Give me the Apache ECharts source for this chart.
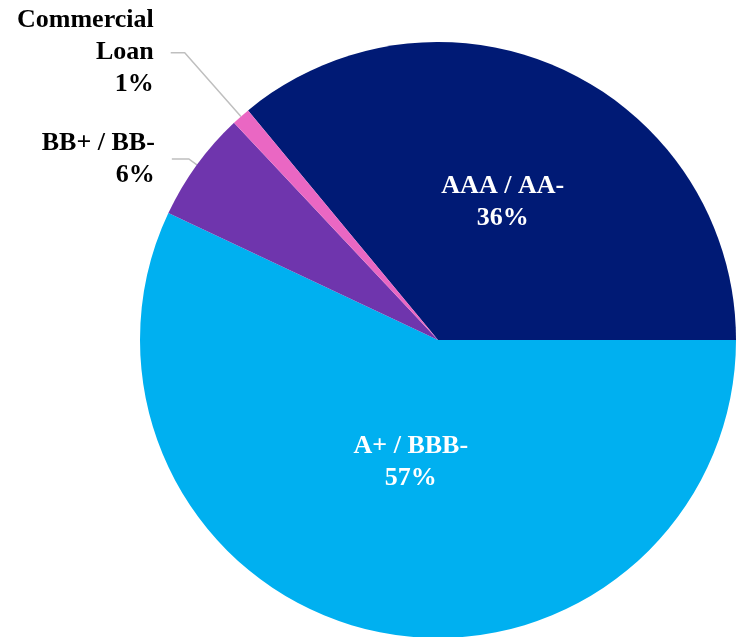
<!DOCTYPE html>
<html>
<head>
<meta charset="utf-8">
<script src="https://cdn.jsdelivr.net/npm/echarts@6/dist/echarts.min.js"></script>
<style>html,body{margin:0;padding:0;background:#fff;}#c{width:736px;height:637px;}</style>
</head>
<body>
<div id="c"></div>
<script>
const categories = ['AAA / AA-', 'A+ / BBB-', 'BB+ / BB-', 'Commercial\nLoan'];
const values = [36, 57, 6, 1];
const colors = ['#001A75', '#00B0F0', '#6F35AD', '#EA67C3'];

const FONT = '"Times New Roman", "Liberation Serif", serif';
const chart = echarts.init(document.getElementById('c'), null, {renderer: 'canvas'});

const data = categories.map((name, i) => {
  const inside = i < 2;
  const item = {
    name: name,
    value: values[i],
    itemStyle: {color: colors[i]},
    label: inside ? {
      position: 'inner',
      color: '#ffffff'
    } : {
      position: 'outside',
      color: '#000000',
      distanceToLabelLine: i === 3 ? 17 : 17
    },
    labelLine: inside ? {show: false} : {
      show: true,
      length: i === 3 ? 85 : 10,
      length2: i === 3 ? 14 : 17,
      lineStyle: {color: '#BFBFBF', width: 1.5}
    }
  };
  return item;
});

chart.setOption({
  animation: false,
  series: [{
    type: 'pie',
    center: [438, 340],
    radius: 298,
    startAngle: 129.6,
    clockwise: true,
    avoidLabelOverlap: false,
    itemStyle: {borderWidth: 0},
    label: {
      show: true,
      fontFamily: FONT,
      fontWeight: 'bold',
      fontSize: 26,
      lineHeight: 32,
      formatter: p => p.name + '\n' + p.value + '%'
    },
    labelLayout: function (params) {
      if (params.dataIndex === 1) return {dx: 6, dy: -26};
      return {};
    },
    data: data
  }]
});
</script>
</body>
</html>
